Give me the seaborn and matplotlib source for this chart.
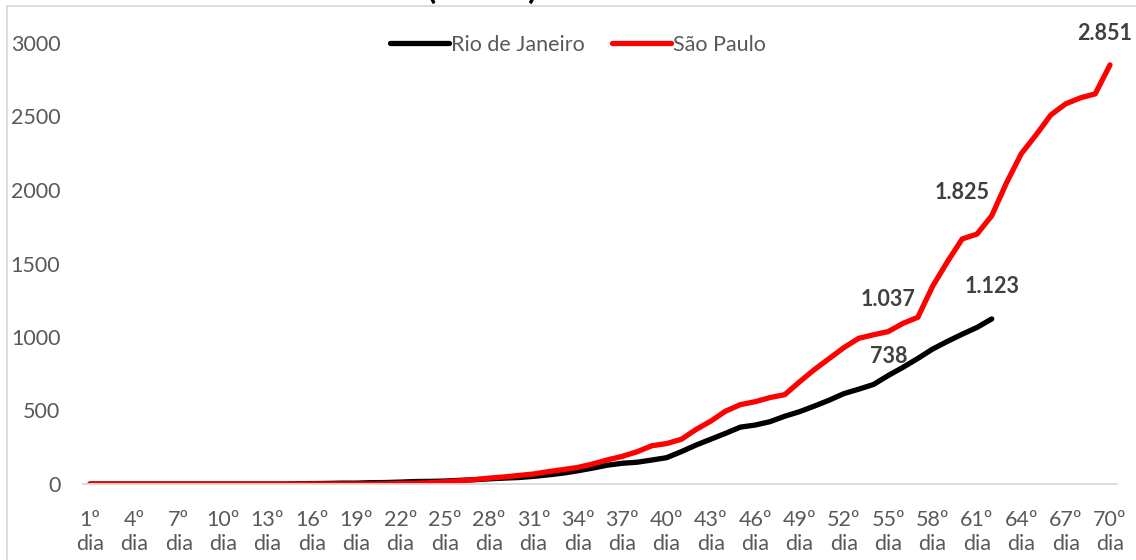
import pandas as pd
import matplotlib.pyplot as plt
import matplotlib.lines as mlines
import seaborn as sns

# Data: accumulated deaths per day since first case in each state
days = list(range(1, 71))

sp_deaths = [0] * 20 + [
    1, 4, 5, 9, 15, 22, 30, 40, 48, 58,
    68, 84, 98, 113, 136, 164, 188, 219, 260, 275,
    304, 371, 428, 496, 540, 560, 588, 608, 695, 778,
    853, 928, 991, 1015, 1037, 1093, 1134, 1345, 1512, 1667,
    1700, 1825, 2049, 2247, 2375, 2511, 2586, 2627, 2654, 2851,
]

rj_deaths = [0] * 14 + [
    2, 3, 4, 6, 6, 9, 10, 13, 17, 18, 20, 25, 29, 35, 40, 44,
    52, 62, 74, 90, 108, 128, 141, 148, 163, 179,
    220, 265, 305, 345, 387, 401, 424, 461, 492, 530,
    570, 615, 645, 677, 738, 794, 854, 918, 970, 1019, 1065, 1123,
]

series_names = ['Rio de Janeiro', 'São Paulo']
tick_days = list(range(1, 71, 3))
tick_labels = [f'{d}º\ndia' for d in tick_days]

# points that get a value label: (series, day, x offset px, y offset px)
label_points = [
    ('São Paulo', 70, -5, 31),
    ('São Paulo', 62, -30, 23),
    ('São Paulo', 55, 0, 32),
    ('Rio de Janeiro', 62, 0, 32),
    ('Rio de Janeiro', 55, 0, 19),
]

df = pd.concat([
    pd.DataFrame({'dia': days[:len(rj_deaths)], 'obitos': rj_deaths, 'estado': series_names[0]}),
    pd.DataFrame({'dia': days, 'obitos': sp_deaths, 'estado': series_names[1]}),
], ignore_index=True)

sns.set_theme(style="white")
plt.rcParams['font.family'] = ['Lato', 'DejaVu Sans']

fig = plt.figure(figsize=(11.36, 5.6), dpi=100)
ax = fig.add_axes([82.6 / 1136, 76 / 560, 1034.8 / 1136, 441 / 560])

palette = {'Rio de Janeiro': '#000000', 'São Paulo': '#ff0000'}
sns.lineplot(data=df, x='dia', y='obitos', hue='estado', hue_order=series_names,
             palette=palette, linewidth=3.8, solid_capstyle='round',
             ax=ax, legend=False)

ax.set_xlim(0.5, 70.5)
ax.set_ylim(0, 3000)
ax.set_yticks(range(0, 3001, 500))
ax.set_xticks(tick_days)
ax.set_xticklabels(tick_labels, linespacing=1.2)
ax.tick_params(axis='both', length=0, labelsize=15.5, colors='#595959')
ax.tick_params(axis='y', pad=16)
ax.tick_params(axis='x', pad=19)
ax.set_xlabel('')
ax.set_ylabel('')
for side in ['left', 'right', 'top']:
    ax.spines[side].set_visible(False)
ax.spines['bottom'].set_color('#d9d9d9')
ax.spines['bottom'].set_linewidth(1.3)
ax.grid(False)

# value labels
values = {'Rio de Janeiro': rj_deaths, 'São Paulo': sp_deaths}
for name, day, dx, dy in label_points:
    v = values[name][day - 1]
    ax.annotate(f'{v:,}'.replace(',', '.'), xy=(day, v), xytext=(dx, dy),
                textcoords='offset pixels', ha='center', va='center',
                fontsize=15.5, fontweight='bold', color='#404040',
                annotation_clip=False)

# legend
handles = [mlines.Line2D([], [], color=palette[n], linewidth=3.8, solid_capstyle='round')
           for n in series_names]
leg = fig.legend(handles, series_names, loc='center', bbox_to_anchor=(578 / 1136, 1 - 45 / 560),
                 ncol=2, frameon=False, fontsize=15.5, handlelength=2.7,
                 handletextpad=0.1, columnspacing=1.3)
for t in leg.get_texts():
    t.set_color('#595959')

# chart border (cropped) and cut-off title
fig.add_artist(mlines.Line2D([7 / 1136, 7 / 1136], [0, 1 - 6 / 560], color='#d9d9d9', linewidth=1.3))
fig.add_artist(mlines.Line2D([7 / 1136, 1], [1 - 6 / 560, 1 - 6 / 560], color='#d9d9d9', linewidth=1.3))
fig.text(482 / 1136, 1 + 1 / 560, '(óbitos)', ha='center', va='baseline',
         fontsize=24, fontweight='bold', color='#000000')

fig.savefig('out.png', dpi=100)
